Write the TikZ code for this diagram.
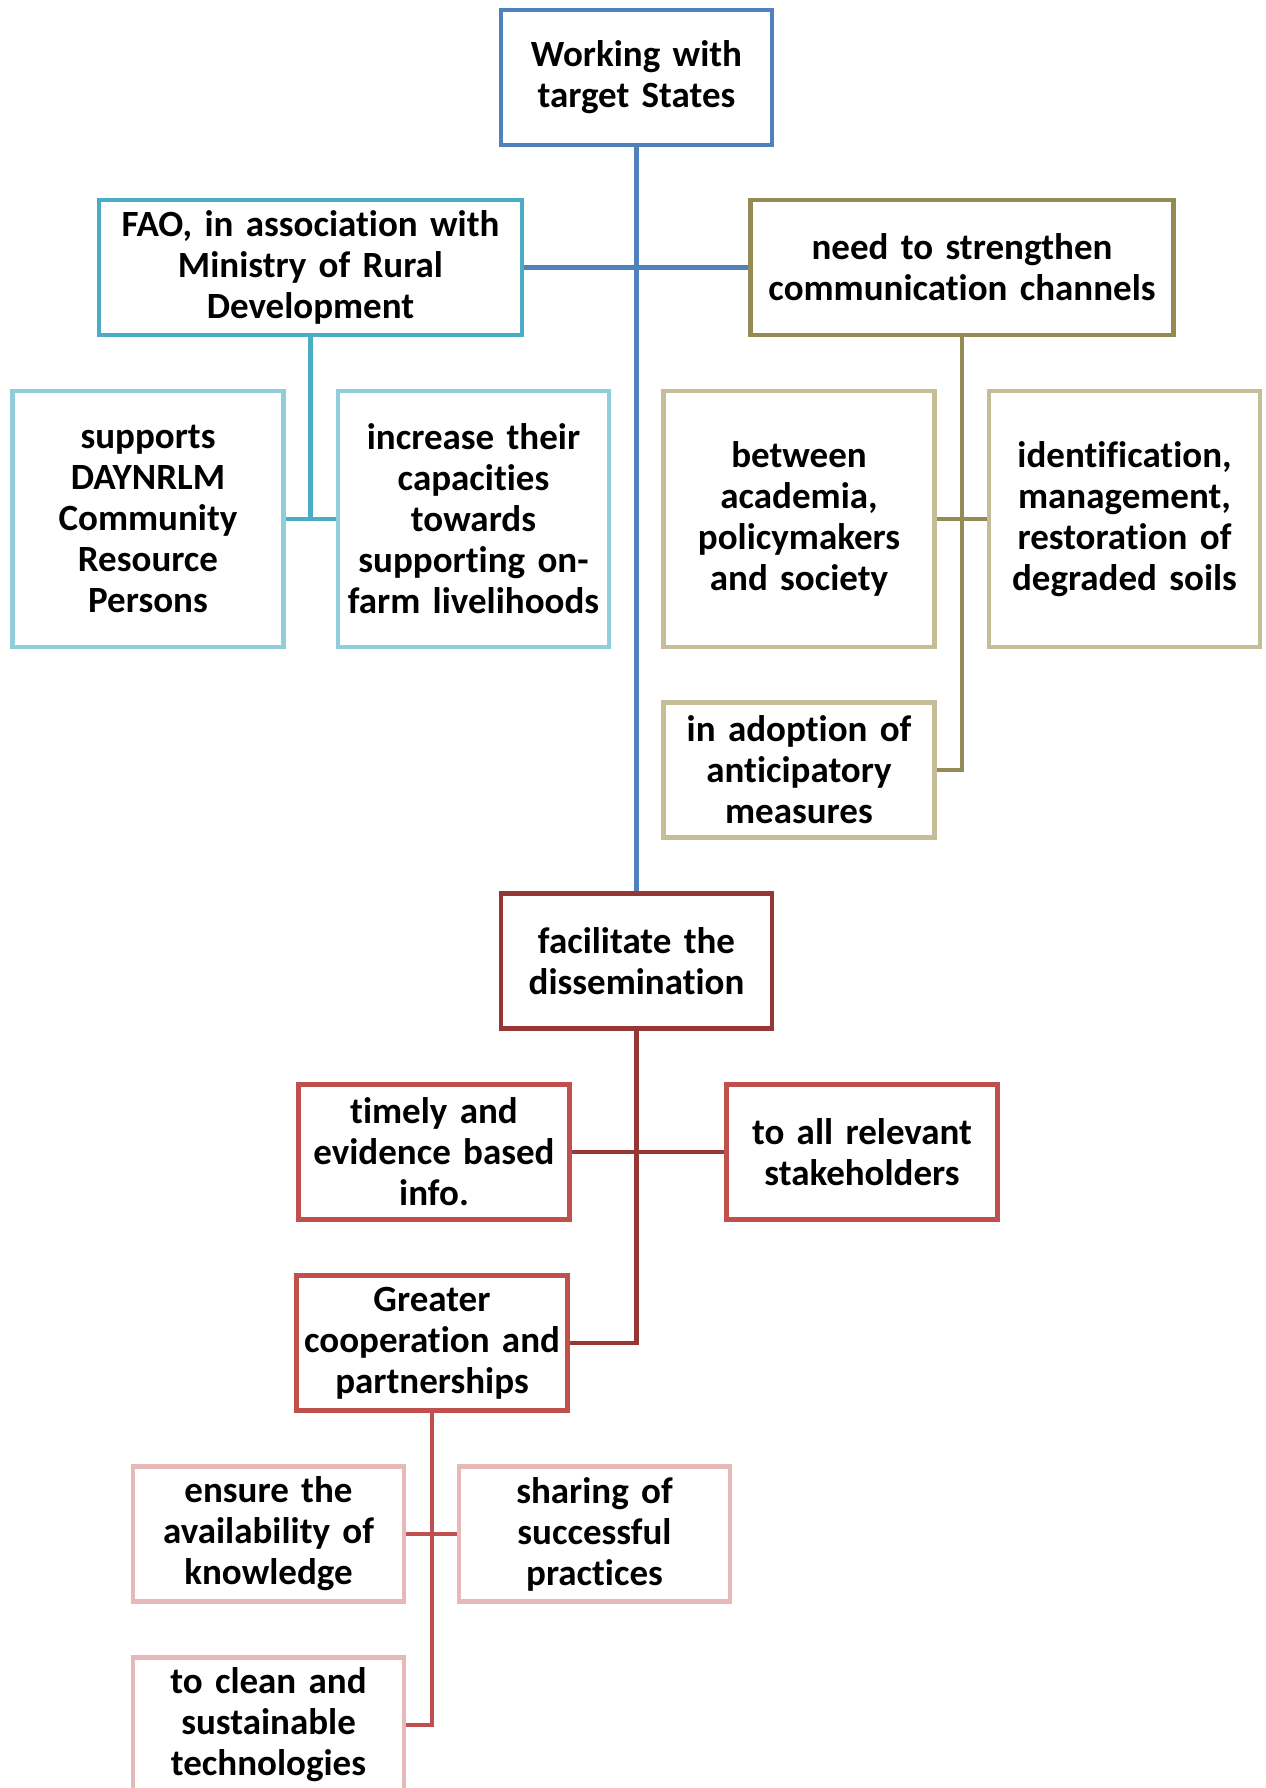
\documentclass[tikz,border=0pt]{standalone}
\usepackage{fontspec}
\setmainfont{Carlito}[Ligatures=NoCommon, WordSpace=0.9]
\definecolor{cBlue}{HTML}{4F81BD}
\definecolor{cTeal}{HTML}{4BACC6}
\definecolor{cTealL}{HTML}{92CDDC}
\definecolor{cOlive}{HTML}{948A54}
\definecolor{cTan}{HTML}{C4BD97}
\definecolor{cDRed}{HTML}{953735}
\definecolor{cRed}{HTML}{C0504D}
\definecolor{cPink}{HTML}{E6B9B8}
\tikzset{
  bx/.style={rectangle, fill=white, line width=2.25pt, align=center, inner sep=0pt,
    font=\bfseries\fontsize{18.5pt}{20.5pt}\selectfont},
  smallbox/.style={bx, minimum width=135.5pt, minimum height=67.5pt, text width=131pt},
  tallbox/.style={bx, minimum width=135.5pt, minimum height=128pt, text width=131pt},
  widebox/.style={bx, minimum width=211.5pt, minimum height=67.5pt, text width=207pt},
  conn/.style={line width=2.25pt}
}
\begin{document}
\begin{tikzpicture}[x=0.5pt,y=-0.5pt]
\useasboundingbox (0,0) rectangle (1265,1788);
\node[smallbox, draw=cBlue] (b1) at (636.5,77.5) {Working with\\target States};
\node[widebox, draw=cTeal] (b2) at (310.5,267.5) {FAO, in association with\\Ministry of Rural\\Development};
\node[widebox, draw=cOlive] (b3) at (962,267.5) {need to strengthen\\communication channels};
\node[tallbox, draw=cTealL] (b4) at (148,519) {supports\\DAYNRLM\\Community\\Resource\\Persons};
\node[tallbox, draw=cTealL] (b5) at (473.5,519) {increase their\\capacities\\towards\\supporting on-\\farm livelihoods};
\node[tallbox, draw=cTan] (b6) at (799,519) {between\\academia,\\policymakers\\and society};
\node[tallbox, draw=cTan] (b7) at (1124.5,519) {identification,\\management,\\restoration of\\degraded soils};
\node[smallbox, draw=cTan] (b8) at (799,770) {in adoption of\\anticipatory\\measures};
\node[smallbox, draw=cDRed] (b9) at (636.5,961) {facilitate the\\dissemination};
\node[smallbox, draw=cRed] (b10) at (434,1152) {timely and\\evidence based\\info.};
\node[smallbox, draw=cRed] (b11) at (862,1152) {to all relevant\\stakeholders};
\node[smallbox, draw=cRed] (b12) at (432,1343) {Greater\\cooperation and\\partnerships};
\node[smallbox, draw=cPink] (b13) at (268.5,1534) {ensure the\\availability of\\knowledge};
\node[smallbox, draw=cPink] (b14) at (594.5,1534) {sharing of\\successful\\practices};
\node[smallbox, draw=cPink] (b15) at (268.5,1725) {to clean and\\sustainable\\technologies};
\draw[conn, cBlue] (b1.south) -- (b9.north);
\draw[conn, cBlue] (b2.east) -- (b3.west);
\draw[conn, cTeal] (b2.south) -- (b2.south |- b4.east);
\draw[conn, cTeal] (b4.east) -- (b5.west);
\draw[conn, cOlive] (b3.south) |- (b8.east);
\draw[conn, cOlive] (b6.east) -- (b7.west);
\draw[conn, cDRed] (b9.south) |- (b12.east);
\draw[conn, cDRed] (b10.east) -- (b11.west);
\draw[conn, cRed] (b12.south) |- (b15.east);
\draw[conn, cRed] (b13.east) -- (b14.west);
\end{tikzpicture}
\end{document}
